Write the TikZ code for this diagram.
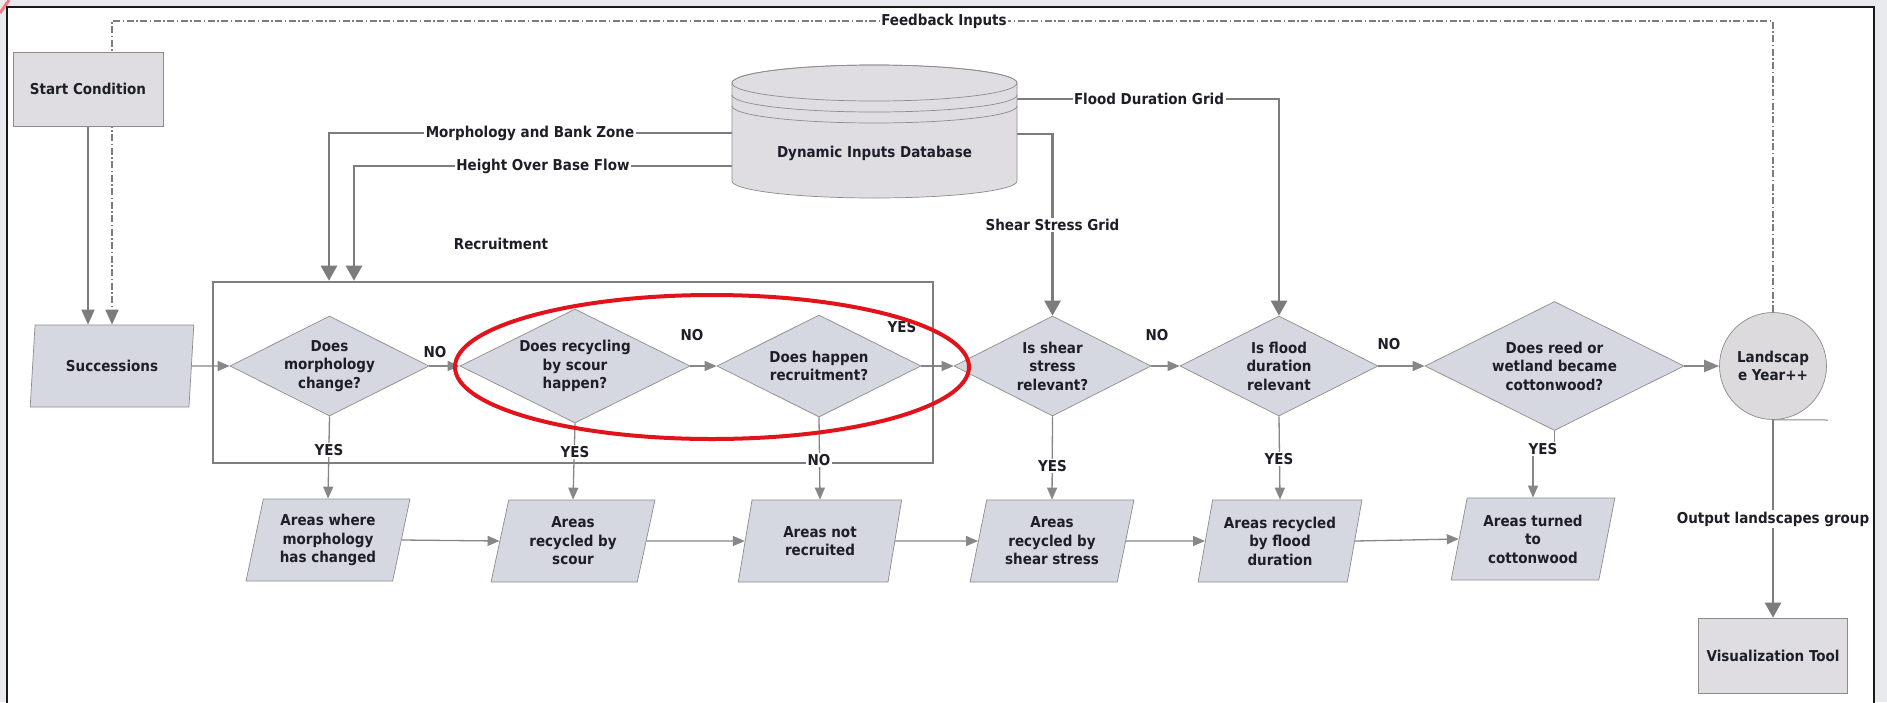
\documentclass[tikz,border=0pt]{standalone}
\usepackage{fontspec}
\setmainfont{DejaVu Sans Condensed}
\usetikzlibrary{shapes.geometric,arrows.meta,calc}
\pgfdeclarelayer{bg}
\pgfsetlayers{bg,main}
\definecolor{shapefill}{HTML}{D5D8E0}
\definecolor{boxfill}{HTML}{DFDDE1}
\definecolor{circfill}{HTML}{DCDADD}
\definecolor{edge}{HTML}{8C8C8C}
\definecolor{wirec}{HTML}{878787}
\definecolor{feedc}{HTML}{7C7C7C}
\definecolor{boxline}{HTML}{7E7E7E}
\definecolor{ink}{HTML}{1E1E28}
\definecolor{hilite}{HTML}{E2141B}
\definecolor{page}{HTML}{E8EAED}
\begin{document}
\begin{tikzpicture}[x=1pt,y=-1pt,
  txt/.style={font=\fontsize{15}{18.5}\selectfont\bfseries, text=ink, align=center},
  lbl/.style={txt, fill=white, inner sep=1.5pt},
  decision/.style 2 args={txt, diamond, aspect=2, draw=edge, line width=0.7pt,
    fill=shapefill, inner sep=0pt, minimum width=#1, minimum height=#2},
  data/.style={txt, trapezium, trapezium left angle=76, trapezium right angle=104,
    trapezium stretches=true, draw=edge, line width=0.7pt, fill=shapefill,
    inner sep=0pt, minimum width=164pt, minimum height=82pt},
  proc/.style={txt, rectangle, draw=edge, line width=0.7pt, fill=boxfill, inner sep=0pt},
  wire/.style={draw=wirec, line width=1.3pt},
  flow/.style={wire, -{Triangle[length=12pt,width=10pt]}},
  bigflow/.style={draw=wirec, line width=2pt, -{Triangle[length=15pt,width=12pt]}},
  feed/.style={draw=feedc, line width=2.6pt, -{Triangle[length=15pt,width=16pt]}},
  startflow/.style={draw=feedc, line width=1.6pt, -{Triangle[length=15pt,width=13pt]}},
  fbline/.style={draw=feedc, line width=1.6pt,
    dash pattern=on 7pt off 2.5pt on 1.5pt off 2.5pt,
    -{Triangle[length=15pt,width=13pt]}}]

\useasboundingbox (0,0) rectangle (1887,702);

% start and successions
\node[proc, minimum width=150pt, minimum height=74pt] (start) at (88,89) {Start Condition};
\node[data] (succ) at (112,366) {Successions};

% recruitment group
\node[draw=boxline, line width=2.6pt, minimum width=720pt, minimum height=181pt, inner sep=0pt] (rbox) at (573,372.5) {};
\node[txt] (rlbl) at (501,244) {Recruitment};

% decisions
\node[decision={199pt}{100pt}] (d1) at (329.5,366) {Does\\morphology\\change?};
\node[decision={230pt}{114pt}] (d2) at (575,366) {Does recycling\\by scour\\happen?};
\node[decision={204pt}{102pt}] (d3) at (819,366) {Does happen\\recruitment?};
\node[decision={197pt}{100pt}] (d4) at (1052.5,366) {Is shear\\stress\\relevant?};
\node[decision={198pt}{100pt}] (d5) at (1279,366) {Is flood\\duration\\relevant};
\node[decision={259pt}{129pt}] (d6) at (1554.5,366) {Does reed or\\wetland became\\cottonwood?};
\node[txt, circle, draw=edge, line width=0.7pt, fill=circfill, minimum size=107pt, inner sep=0pt] (lyear) at (1773,366) {Landscap\\e Year++};

% output areas
\node[data] (p1) at (328,540) {Areas where\\morphology\\has changed};
\node[data] (p2) at (573,541) {Areas\\recycled by\\scour};
\node[data] (p3) at (820,541) {Areas not\\recruited};
\node[data] (p4) at (1052,541) {Areas\\recycled by\\shear stress};
\node[data] (p5) at (1280,541) {Areas recycled\\by flood\\duration};
\node[data] (p6) at (1533,539) {Areas turned\\to\\cottonwood};
\node[proc, minimum width=149pt, minimum height=75pt] (vis) at (1773,655.5) {Visualization Tool};

% database cylinder
\filldraw[draw=edge, line width=0.7pt, fill=boxfill]
  (732,83) -- (732,181) arc[start angle=180, end angle=360, x radius=142.5pt, y radius=17pt]
  -- (1017,83) arc[start angle=0, end angle=180, x radius=142.5pt, y radius=18pt] -- cycle;
\draw[edge, line width=0.7pt] (874.5,83) ellipse[x radius=142.5pt, y radius=18pt];
\draw[edge, line width=0.7pt] (732,95) arc[start angle=180, end angle=360, x radius=142.5pt, y radius=17pt];
\draw[edge, line width=0.7pt] (732,106) arc[start angle=180, end angle=360, x radius=142.5pt, y radius=17pt];
\node[minimum width=285pt, minimum height=133pt, inner sep=0pt] (db) at (874.5,131.5) {};
\node[txt] (dbt) at (874.5,153) {Dynamic Inputs Database};

% routing points
\coordinate (fbk) at (113,21);
\coordinate (mbz) at (329,133);
\coordinate (hob) at (354,166);
\coordinate (fdg) at (1279,99);
\coordinate (ssg) at (1052.5,134);
\coordinate (d6yes) at (1543,449);
\coordinate (stub) at (1828,420);

% connector labels
\node[lbl] (fbl) at (944,21) {Feedback Inputs};
\node[lbl] (mbzl) at (530,133) {Morphology and Bank Zone};
\node[lbl] (hobl) at (543,166) {Height Over Base Flow};
\node[lbl] (fdgl) at (1149,99) {Flood Duration Grid};
\node[lbl] (ssgl) at (1052.5,225) {Shear Stress Grid};
\node[lbl] (outl) at (1773,519) {Output landscapes group};
\node[txt] (n12) at (435,352) {NO};
\node[txt] (n23) at (692,335) {NO};
\node[txt] (y34) at (902,327) {YES};
\node[txt] (n45) at (1157,335) {NO};
\node[txt] (n56) at (1389,344) {NO};
\node[lbl] (y1) at (329,450) {YES};
\node[lbl] (y2) at (575,452) {YES};
\node[lbl] (n3) at (819,460) {NO};
\node[lbl] (y4) at (1052.5,466) {YES};
\node[lbl] (y5) at (1279,459) {YES};
\node[lbl] (y6) at (d6yes) {YES};

\begin{pgfonlayer}{bg}
  \fill[page] (0,0) rectangle (1887,702);
  \draw[hilite!55, line width=3pt] (0,13) -- (9,0);
  \draw[black!90, line width=2.5pt, fill=white] (7,7) rectangle (1874,730);
  % feedback loop and start
  \draw[fbline] (lyear.north) |- (fbk) -| (succ.north);
  \draw[startflow] (start.south) -- (start.south |- succ.north);
  % database feeds
  \draw[feed] (db.west |- mbz) -- (mbz) -- (mbz |- rbox.north);
  \draw[feed] (db.west |- hob) -- (hob) -- (hob |- rbox.north);
  \draw[feed] (db.east |- fdg) -| (d5.north);
  \draw[feed] (db.east |- ssg) -| (d4.north);
  % main decision chain
  \draw[flow] (succ.east) -- (d1.west);
  \draw[flow] (d1.east) -- (d2.west);
  \draw[flow] (d2.east) -- (d3.west);
  \draw[flow] (d3.east) -- (d4.west);
  \draw[flow] (d4.east) -- (d5.west);
  \draw[flow] (d5.east) -- (d6.west);
  \draw[bigflow] (d6.east) -- (lyear.west);
  % branches to output areas
  \draw[flow] (d1.south) -- (p1.north);
  \draw[flow] (d2.south) -- (p2.north);
  \draw[flow] (d3.south) -- (p3.north);
  \draw[flow] (d4.south) -- (p4.north);
  \draw[flow] (d5.south) -- (p5.north);
  \draw[flow] (d6.south) |- (d6yes) -| (p6.north);
  % output area chain
  \draw[flow] (p1.east) -- (p2.west);
  \draw[flow] (p2.east) -- (p3.west);
  \draw[flow] (p3.east) -- (p4.west);
  \draw[flow] (p4.east) -- (p5.west);
  \draw[flow] (p5.east) -- (p6.west);
  % landscape output
  \draw[wire, line width=1pt] (lyear.south) -- (stub);
  \draw[feed] (lyear.south) -- (vis.north);
\end{pgfonlayer}

% highlighted pair of recruitment questions
\draw[hilite, line width=4pt] (712,367) ellipse[x radius=257pt, y radius=72pt];
\end{tikzpicture}
\end{document}
